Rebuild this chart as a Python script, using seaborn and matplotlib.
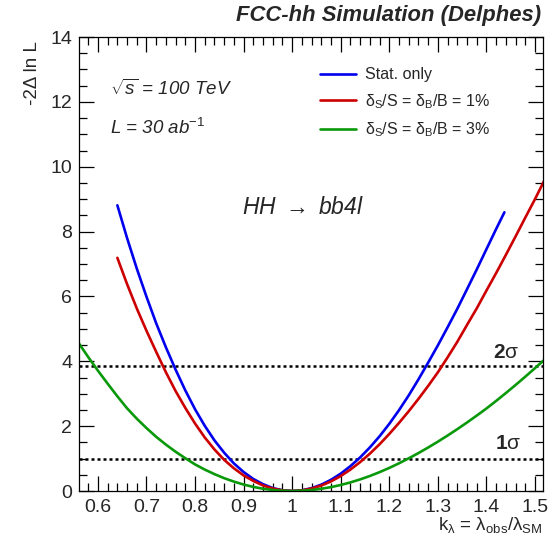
import numpy as np
import pandas as pd
import matplotlib
matplotlib.use("Agg")
import matplotlib.pyplot as plt
import seaborn as sns
from matplotlib.ticker import MultipleLocator
from matplotlib.lines import Line2D

# ---- data ----
k_blue = [0.64, 0.66, 0.68, 0.70, 0.72, 0.74, 0.76, 0.78, 0.80, 0.82, 0.84,
          0.86, 0.88, 0.90, 0.92, 0.94, 0.96, 0.98, 1.00, 1.02, 1.04, 1.06,
          1.08, 1.10, 1.12, 1.14, 1.16, 1.18, 1.20, 1.22, 1.24, 1.26, 1.28,
          1.30, 1.32, 1.34, 1.36, 1.38, 1.40, 1.42, 1.437]
nll_blue = [8.81, 7.80, 6.86, 5.99, 5.17, 4.43, 3.74, 3.10, 2.52, 2.01, 1.56,
            1.18, 0.85, 0.585, 0.37, 0.21, 0.09, 0.023, 0.00, 0.022, 0.088, 0.196,
            0.346, 0.536, 0.768, 1.037, 1.344, 1.688, 2.072, 2.493, 2.949, 3.441, 3.959,
            4.491, 5.048, 5.618, 6.221, 6.830, 7.456, 8.079, 8.594]

k_red = [0.64, 0.66, 0.68, 0.70, 0.72, 0.74, 0.76, 0.78, 0.80, 0.82, 0.84,
         0.86, 0.88, 0.90, 0.92, 0.94, 0.96, 0.98, 1.00, 1.02, 1.04, 1.06,
         1.08, 1.10, 1.12, 1.14, 1.16, 1.18, 1.20, 1.22, 1.24, 1.26, 1.28,
         1.30, 1.32, 1.34, 1.36, 1.38, 1.40, 1.42, 1.44, 1.46, 1.48, 1.50, 1.52]
nll_red = [7.19, 6.38, 5.63, 4.94, 4.29, 3.66, 3.08, 2.56, 2.08, 1.65, 1.28,
           0.96, 0.70, 0.48, 0.31, 0.17, 0.076, 0.019, 0.00, 0.019, 0.075, 0.167,
           0.296, 0.461, 0.662, 0.892, 1.152, 1.442, 1.76, 2.10, 2.46, 2.84, 3.24,
           3.66, 4.12, 4.60, 5.12, 5.63, 6.18, 6.72, 7.28, 7.85, 8.43, 9.00, 9.60]

k_green = [0.56, 0.58, 0.60, 0.62, 0.64, 0.66, 0.68, 0.70, 0.72, 0.74, 0.76,
           0.78, 0.80, 0.82, 0.84, 0.86, 0.88, 0.90, 0.92, 0.94, 0.96, 0.98,
           1.00, 1.02, 1.04, 1.06, 1.08, 1.10, 1.12, 1.14, 1.16, 1.18, 1.20,
           1.22, 1.24, 1.26, 1.28, 1.30, 1.32, 1.34, 1.36, 1.38, 1.40, 1.42,
           1.44, 1.46, 1.48, 1.50, 1.52]
nll_green = [4.57, 4.13, 3.71, 3.31, 2.92, 2.55, 2.23, 1.94, 1.67, 1.43, 1.21,
             1.01, 0.82, 0.66, 0.52, 0.395, 0.29, 0.199, 0.126, 0.070, 0.031, 0.008,
             0.00, 0.008, 0.030, 0.068, 0.120, 0.186, 0.265, 0.358, 0.463, 0.582, 0.712,
             0.854, 1.008, 1.169, 1.341, 1.521, 1.710, 1.907, 2.112, 2.325, 2.544, 2.778,
             3.020, 3.269, 3.525, 3.788, 4.056]

labels = ["Stat. only",
          r"δ$_{\mathrm{S}}$/S = δ$_{\mathrm{B}}$/B = 1%",
          r"δ$_{\mathrm{S}}$/S = δ$_{\mathrm{B}}$/B = 3%"]
colors = ["#0000ee", "#cc0000", "#0a990a"]
sigma_levels = [1.0, 3.84]
sigma_labels = [r"$\mathbf{1}$σ", r"$\mathbf{2}$σ"]
xtick_vals = [0.6, 0.7, 0.8, 0.9, 1.0, 1.1, 1.2, 1.3, 1.4, 1.5]
xtick_labels = ["0.6", "0.7", "0.8", "0.9", "1", "1.1", "1.2", "1.3", "1.4", "1.5"]

df = pd.concat([
    pd.DataFrame({"k": k_blue, "nll": nll_blue, "series": labels[0]}),
    pd.DataFrame({"k": k_red, "nll": nll_red, "series": labels[1]}),
    pd.DataFrame({"k": k_green, "nll": nll_green, "series": labels[2]}),
], ignore_index=True)

sns.set_style("ticks")
plt.rcParams["font.family"] = ["Liberation Sans", "DejaVu Sans"]
plt.rcParams["mathtext.fontset"] = "custom"
plt.rcParams["mathtext.rm"] = "Liberation Sans"
plt.rcParams["mathtext.it"] = "Liberation Sans:italic"
plt.rcParams["mathtext.bf"] = "Liberation Sans:bold"
plt.rcParams["mathtext.sf"] = "Liberation Sans"

fig = plt.figure(figsize=(5.5, 5.47), dpi=100)
ax = fig.add_axes([79/550, 1-491/547, (543-79)/550, (491-37)/547])

sns.lineplot(data=df, x="k", y="nll", hue="series", palette=dict(zip(labels, colors)),
             hue_order=labels, ax=ax, linewidth=1.9, legend=False, sort=False,
             estimator=None)

for lv in sigma_levels:
    ax.axhline(lv, color="black", linestyle=(0, (1.2, 1.2)), linewidth=1.8, zorder=1)

ax.text(1.413, 4.28, sigma_labels[1], fontsize=15, va="center", ha="left")
ax.text(1.418, 1.48, sigma_labels[0], fontsize=15, va="center", ha="left")

ax.set_xlim(0.561, 1.5165)
ax.set_ylim(0, 14)
ax.xaxis.set_minor_locator(MultipleLocator(0.02))
ax.yaxis.set_major_locator(MultipleLocator(2))
ax.yaxis.set_minor_locator(MultipleLocator(0.5))
ax.set_xticks(xtick_vals)
ax.set_xticklabels(xtick_labels)
ax.tick_params(which="both", direction="in", top=True, right=True,
               labelsize=14, width=0.9, color="black")
ax.tick_params(which="major", length=11)
ax.tick_params(which="minor", length=5.5)
ax.tick_params(axis="x", which="major", pad=6)
ax.tick_params(axis="y", which="major", pad=5)
for s in ax.spines.values():
    s.set_linewidth(0.9)
    s.set_color("black")

ax.set_xlabel(r"k$_{\mathrm{\lambda}}$ = λ$_{\mathrm{obs}}$/λ$_{\mathrm{SM}}$",
              fontsize=13.5, ha="right", va="center")
ax.xaxis.set_label_coords(1.0, -0.075)
ax.set_ylabel("-2Δ ln L", fontsize=13.5, ha="right", va="center")
ax.yaxis.set_label_coords(-0.1, 0.99)

fig.text(541/550, 1-16/547, "FCC-hh Simulation (Delphes)", fontsize=15.8,
         fontweight="bold", style="italic", ha="right", va="center")

ax.text(0.066, 0.885, r"$\sqrt{s}$ = 100 TeV", transform=ax.transAxes,
        fontsize=13.5, style="italic", va="center")
ax.text(0.066, 0.8, r"L = 30 ab$^{\mathit{-1}}$", transform=ax.transAxes,
        fontsize=13.5, style="italic", va="center")
ax.text(0.352, 0.625, r"HH $\rightarrow$ bb4l", transform=ax.transAxes,
        fontsize=16.5, style="italic", va="center")

handles = [Line2D([0], [0], color=c, lw=1.9) for c in colors]
leg = ax.legend(handles, labels, loc="upper left", bbox_to_anchor=(0.505, 0.947),
                frameon=False, fontsize=11.5, handlelength=2.3, handletextpad=0.55,
                labelspacing=0.6, borderaxespad=0)

fig.savefig("out.png", dpi=100)
